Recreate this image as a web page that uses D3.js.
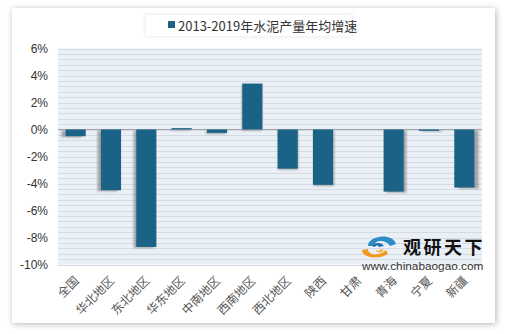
<!DOCTYPE html>
<html><head><meta charset="utf-8">
<script src="https://cdn.jsdelivr.net/npm/d3@7"></script>
<style>body{margin:0;background:#fff;}svg{display:block;}</style>
</head><body>
<svg id="c" width="520" height="334"></svg>
<script>
const categories = ["全国","华北地区","东北地区","华东地区","中南地区","西南地区","西北地区","陕西","甘肃","青海","宁夏","新疆"];
const values = [-0.5, -4.5, -8.7, 0.1, -0.25, 3.4, -2.9, -4.1, 0, -4.6, -0.1, -4.3];
const yTicks = [6, 4, 2, 0, -2, -4, -6, -8, -10];
const seriesName = "2013-2019年水泥产量年均增速";

const svg = d3.select("#c");
const defs = svg.append("defs");
const fs = defs.append("filter").attr("id","frameShadow").attr("x","-10%").attr("y","-10%").attr("width","120%").attr("height","120%");
fs.append("feDropShadow").attr("dx",1).attr("dy",1).attr("stdDeviation",3).attr("flood-color","#000").attr("flood-opacity",0.3);
const bs = defs.append("filter").attr("id","barBlur").attr("x","-50%").attr("y","-50%").attr("width","200%").attr("height","200%");
bs.append("feGaussianBlur").attr("stdDeviation",1.2);
const ls = defs.append("filter").attr("id","legShadow").attr("x","-10%").attr("y","-30%").attr("width","120%").attr("height","160%");
ls.append("feDropShadow").attr("dx",0).attr("dy",0).attr("stdDeviation",2).attr("flood-color","#000").attr("flood-opacity",0.12);

// frame
svg.append("rect").attr("x",12).attr("y",8).attr("width",483).attr("height",315)
  .attr("fill","#fff").attr("filter","url(#frameShadow)");

const pL = 58, pR = 482, pT = 48.5, pB = 264.5;
const x = d3.scaleBand().domain(categories).range([pL,pR]).paddingInner(0.43).paddingOuter(0.215);
const y = d3.scaleLinear().domain([-10,6]).range([pB, pT]);

// plot background
svg.append("rect").attr("x",pL).attr("y",pT).attr("width",pR-pL).attr("height",pB-pT).attr("fill","#eaf0f6");
const minor = d3.range(-10, 6.001, 0.4);
svg.append("g").selectAll("line").data(minor).join("line")
  .attr("x1",pL).attr("x2",pR)
  .attr("y1",d=>Math.round(y(d))+0.5).attr("y2",d=>Math.round(y(d))+0.5)
  .attr("stroke","#d3dbe5").attr("stroke-width",1);

// legend
const lg = svg.append("g");
lg.append("rect").attr("x",146).attr("y",15).attr("width",206).attr("height",21).attr("fill","#fff").attr("filter","url(#legShadow)");
lg.append("rect").attr("x",168).attr("y",21).attr("width",7).attr("height",7).attr("fill","#1a6387");
lg.append("text").attr("x",178).attr("y",30.5).attr("font-family","'Noto Sans CJK SC', sans-serif").attr("font-size",13).attr("fill","#333").text(seriesName);

// y axis
const yAxis = d3.axisLeft(y).tickValues(yTicks).tickSize(0).tickPadding(10).tickFormat(d=>d+"%");
const ya = svg.append("g").attr("transform",`translate(${pL},0)`).call(yAxis);
ya.select(".domain").remove();
ya.selectAll("text").attr("font-family","'Liberation Sans', Arial, sans-serif").attr("font-size",12).attr("fill","#333");

// bar shadows
const cx = (pL+pR)/2;
svg.append("g").selectAll("rect").data(values).join("rect")
  .attr("x",(d,i)=>x(categories[i]) + (x(categories[i])+x.bandwidth()/2 - cx)/(pR-pL)*9)
  .attr("y",d=>Math.min(y(d),y(0))+1)
  .attr("width",x.bandwidth())
  .attr("height",d=>Math.abs(y(d)-y(0)))
  .attr("fill","#888").attr("opacity",0.75).attr("filter","url(#barBlur)");

// zero line
svg.append("line").attr("x1",pL).attr("x2",pR).attr("y1",y(0)).attr("y2",y(0)).attr("stroke","#a0a4a8").attr("stroke-width",1);

// bars
svg.append("g").selectAll("rect").data(values).join("rect")
  .attr("x",(d,i)=>x(categories[i]))
  .attr("y",d=>Math.min(y(d),y(0)))
  .attr("width",x.bandwidth())
  .attr("height",d=>Math.abs(y(d)-y(0)))
  .attr("fill","#1a6387");

// x labels
const xa = svg.append("g").attr("transform",`translate(0,${pB})`).call(d3.axisBottom(x).tickSize(0).tickPadding(0));
xa.select(".domain").remove();
xa.selectAll("text")
  .attr("font-family","'Noto Sans CJK SC', sans-serif").attr("font-size",12).attr("fill","#555")
  .attr("text-anchor","end").attr("dy",0)
  .attr("transform","translate(4,17) rotate(-45)");

// watermark
const wm = svg.append("g");
wm.append("path").attr("d","M368,246 C368,236 392,232 396,244 L390,246 C386,239 374,240 374,246 Z").attr("fill","#2c8bc4");
wm.append("path").attr("d","M372,246 C374,242 382,242 384,246 L379,247 C378,245 376,245 375,247 Z").attr("fill","#1f6fa8");
wm.append("path").attr("d","M362,250 C362,258 378,260 388,254 L386,250 C380,256 368,256 368,249 Z").attr("fill","#f39a1e");
wm.append("path").attr("d","M376,251 C378,253 382,253 384,250 L381,249 C380,251 378,251 377,250 Z").attr("fill","#f7b23a");
wm.append("text").attr("x",403).attr("y",254).attr("font-family","'Noto Sans CJK SC', sans-serif").attr("font-weight","bold").attr("font-size",18).attr("letter-spacing",2.5).attr("fill","#111").text("观研天下");
wm.append("text").attr("x",362).attr("y",270).attr("font-family","'Liberation Sans', Arial, sans-serif").attr("font-size",11.8).attr("fill","#333").text("www.chinabaogao.com");
</script>
</body></html>
